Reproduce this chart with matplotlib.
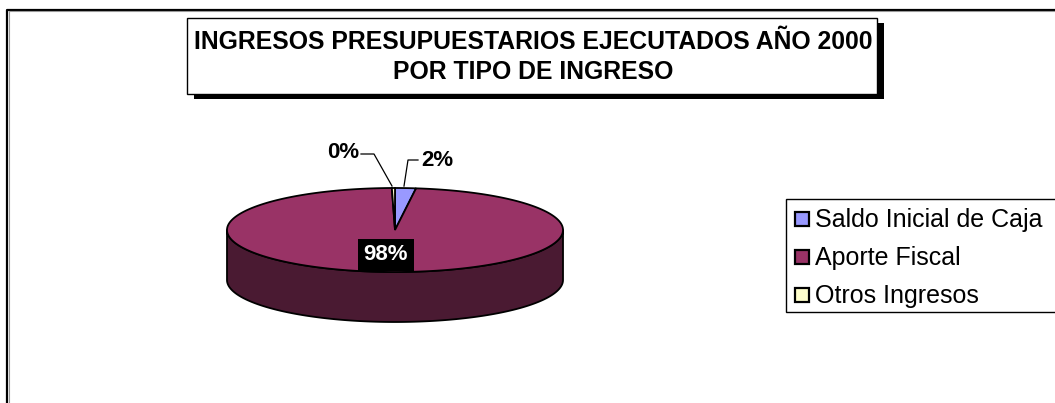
import numpy as np
import matplotlib
matplotlib.use("Agg")
import matplotlib.pyplot as plt
from matplotlib.patches import Polygon, Rectangle

categories = ["Saldo Inicial de Caja", "Aporte Fiscal", "Otros Ingresos"]
values = [2.0, 97.7, 0.3]
labels = ["2%", "98%", "0%"]
colors = ["#9999FF", "#993366", "#FFFFCC"]
side_colors = ["#5C5C99", "#4A1A32", "#99997A"]
title = "INGRESOS PRESUPUESTARIOS EJECUTADOS AÑO 2000\nPOR TIPO DE INGRESO"

W, H = 1055, 403
fig = plt.figure(figsize=(W / 100, H / 100), dpi=100)
ax = fig.add_axes([0, 0, 1, 1])
ax.set_xlim(0, W)
ax.set_ylim(H, 0)
ax.axis("off")
FONT = "Liberation Sans"

# chart border (top & left only visible)
ax.plot([7, 7, W + 5], [H + 5, 9.5, 9.5], color="black", lw=1.6, solid_capstyle="butt")
ax.plot([8.5, 8.5, W + 5], [H + 5, 11, 11], color="#999999", lw=0.8)

# title box with shadow
bx, by, bw, bh = 187, 18, 690, 76
ax.add_patch(Rectangle((bx + 7, by + 5), bw, bh, facecolor="black", edgecolor="none", zorder=2))
ax.add_patch(Rectangle((bx, by), bw, bh, facecolor="white", edgecolor="black", lw=1.0, zorder=3))
ax.text(bx + bw / 2 + 1, by + bh / 2 + 1, title, ha="center", va="center", fontsize=17.8,
        fontweight="bold", family=FONT, linespacing=1.32, zorder=4)

# 3D pie
cx, cy, rx, ry, depth = 395, 230, 168, 42, 50
total = sum(values)
start = 90.0
angles = []
a = start
for v in values:
    a2 = a - 360.0 * v / total
    angles.append((a, a2))
    a = a2

def pt(theta_deg, dy=0):
    t = np.radians(theta_deg)
    return cx + rx * np.cos(t), cy - ry * np.sin(t) + dy

# sides (front half: theta in [180, 360])
for (a1, a2), sc in zip(angles, side_colors):
    lo, hi = min(a1, a2), max(a1, a2)
    for k in (-360, 0, 360):
        s, e = max(lo, 180 + k), min(hi, 360 + k)
        if e > s:
            th = np.linspace(s, e, 200)
            top = [pt(t) for t in th]
            bot = [pt(t, depth) for t in th[::-1]]
            ax.add_patch(Polygon(top + bot, closed=True, facecolor=sc, edgecolor="black",
                                 lw=1.3, joinstyle="round", zorder=5))

# tops
for (a1, a2), c in zip(angles, colors):
    th = np.linspace(a1, a2, max(int(abs(a1 - a2) * 3), 10))
    poly = [(cx, cy)] + [pt(t) for t in th]
    ax.add_patch(Polygon(poly, closed=True, facecolor=c, edgecolor="black", lw=1.3,
                         joinstyle="miter", zorder=6))

# labels
ax.text(386, 255, labels[1], ha="center", va="center", fontsize=16, fontweight="bold",
        color="white", family=FONT, zorder=8,
        bbox=dict(boxstyle="square,pad=0.25", facecolor="black", edgecolor="none"))
# 2% label
mid0 = (angles[0][0] + angles[0][1]) / 2
x0, y0 = pt(mid0)
ax.plot([404, 408, 418], [y0 - 2, 160, 160], color="black", lw=0.9, zorder=7)
ax.text(421, 161, labels[0], ha="left", va="center", fontsize=16, fontweight="bold",
        family=FONT, zorder=8)
# 0% label
mid2 = (angles[2][0] + angles[2][1]) / 2
x2, y2 = pt(mid2)
ax.plot([392, 374, 361], [y2 - 2, 154, 154], color="black", lw=0.9, zorder=7)
ax.text(343, 153, labels[2], ha="center", va="center", fontsize=16, fontweight="bold",
        family=FONT, zorder=8)

# legend
ax.add_patch(Rectangle((786, 199), 300, 113, facecolor="white", edgecolor="black", lw=1.0, zorder=3))
ys = [219, 257, 295]
for cat, c, yy in zip(categories, colors, ys):
    ax.add_patch(Rectangle((795, yy - 7), 14, 14, facecolor=c, edgecolor="black", lw=1.6, zorder=4))
    ax.text(815, yy + 1, cat, ha="left", va="center", fontsize=18, family=FONT, zorder=4)

fig.savefig("out.png", dpi=100)
